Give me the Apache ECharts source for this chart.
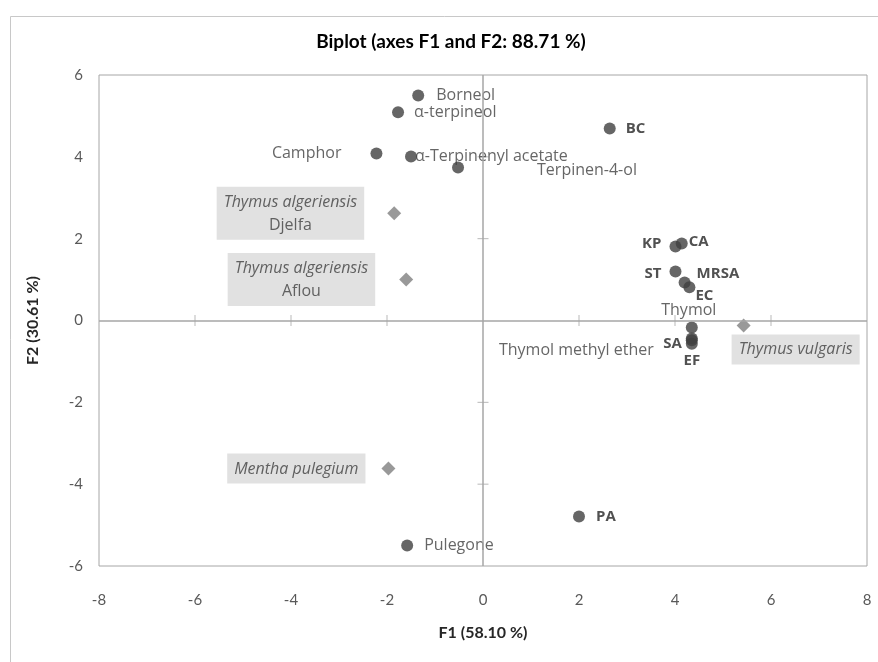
<!DOCTYPE html>
<html>
<head>
<meta charset="utf-8">
<script src="https://cdn.jsdelivr.net/npm/echarts@6/dist/echarts.min.js"></script>
<style>
  html, body { margin: 0; padding: 0; background: #fff; }
  #main { width: 878px; height: 662px; }
</style>
</head>
<body>
<div id="main"></div>
<script>
// variables (loadings)
const compoundNames = ['Borneol', 'α-terpineol', 'Camphor', 'α-Terpinenyl acetate', 'Terpinen-4-ol', 'Thymol', 'Thymol methyl ether', 'Pulegone'];
const compoundF1 = [-1.35, -1.77, -2.22, -1.50, -0.52, 4.35, 4.35, -1.58];
const compoundF2 = [5.50, 5.09, 4.08, 4.01, 3.74, -0.17, -0.44, -5.50];

// bacteria
const bacteriaNames = ['BC', 'KP', 'CA', 'ST', 'MRSA', 'EC', 'SA', 'EF', 'PA'];
const bacteriaF1 = [2.64, 4.01, 4.14, 4.01, 4.20, 4.30, 4.35, 4.35, 2.00];
const bacteriaF2 = [4.69, 1.81, 1.88, 1.20, 0.93, 0.81, -0.48, -0.57, -4.79];

// essential oils (observations)
const oilSpecies = ['Thymus algeriensis', 'Thymus algeriensis', 'Mentha pulegium', 'Thymus vulgaris'];
const oilOrigin = ['Djelfa', 'Aflou', '', ''];
const oilF1 = [-1.85, -1.60, -1.97, 5.43];
const oilF2 = [2.62, 1.00, -3.62, -0.12];

const xTicks = [-8, -6, -4, -2, 0, 2, 4, 6, 8];
const yTicks = [-6, -4, -2, 0, 2, 4, 6];

// label placement (style only)
const place = {
  'Borneol': { position: 'right', distance: 12 },
  'α-terpineol': { position: 'right', distance: 10 },
  'Camphor': { position: 'left', distance: 29 },
  'α-Terpinenyl acetate': { position: 'right', distance: -2 },
  'Terpinen-4-ol': { position: 'right', distance: 73, offset: [0, 3] },
  'Thymol': { position: 'top', distance: 3, offset: [-3, 0] },
  'Thymol methyl ether': { position: 'left', distance: 32, offset: [0, 12] },
  'Pulegone': { position: 'right', distance: 11 },
  'BC': { position: 'right', distance: 10 },
  'KP': { position: 'left', distance: 8, offset: [0, -3] },
  'CA': { position: 'right', distance: 1, offset: [0, -2] },
  'ST': { position: 'left', distance: 8, offset: [0, 2] },
  'MRSA': { position: 'right', distance: 6, offset: [0, -9] },
  'EC': { position: 'right', distance: 0, offset: [0, 8] },
  'SA': { position: 'left', distance: 4, offset: [0, 4] },
  'EF': { position: 'bottom', distance: 3 },
  'PA': { position: 'right', distance: 11 }
};
const oilPlace = [
  { position: 'left', distance: 23 },
  { position: 'left', distance: 24 },
  { position: 'left', distance: 16 },
  { position: 'bottom', distance: 2, offset: [52, 0] }
];

const tickColor = '#a6a6a6';
const axisFont = 'Lato';
const pointFont = 'Open Sans';

let tickData = [];
xTicks.forEach(t => {
  if (t !== 0 && Math.abs(t) !== 8) tickData.push({ value: [t, 0], symbolSize: [1, 11] });
});
yTicks.forEach(t => {
  if (t !== 0 && Math.abs(t) !== 6) tickData.push({ value: [0, t], symbolSize: [11, 1] });
});

const compoundData = compoundNames.map((n, i) => ({
  name: n,
  value: [compoundF1[i], compoundF2[i]],
  label: Object.assign({}, place[n])
}));
const bacteriaData = bacteriaNames.map((n, i) => ({
  name: n,
  value: [bacteriaF1[i], bacteriaF2[i]],
  label: Object.assign({}, place[n])
}));
const oilData = oilSpecies.map((n, i) => ({
  name: n,
  origin: oilOrigin[i],
  value: [oilF1[i], oilF2[i]],
  label: Object.assign({}, oilPlace[i])
}));

const myChart = echarts.init(document.getElementById('main'));
const option = {
  backgroundColor: '#fff',
  animation: false,
  graphic: [
    {
      type: 'rect',
      shape: { x: 10.5, y: 16.5, width: 900, height: 700 },
      style: { fill: 'none', stroke: '#c8c8c8', lineWidth: 1 },
      silent: true,
      z: -10
    },
    {
      type: 'text',
      x: 451,
      y: 42,
      style: {
        text: 'Biplot (axes F1 and F2: 88.71 %)',
        align: 'center',
        verticalAlign: 'middle',
        font: 'bold 19px Lato',
        fill: '#000'
      }
    }
  ],
  grid: {
    left: 99,
    right: 11,
    top: 75,
    bottom: 96,
    show: true,
    borderColor: tickColor,
    borderWidth: 1
  },
  xAxis: {
    type: 'value',
    min: -8,
    max: 8,
    interval: 2,
    axisLine: { show: false, onZero: false },
    axisTick: { show: false },
    splitLine: { show: false },
    axisLabel: { margin: 27, color: '#595959', fontFamily: axisFont, fontSize: 15 },
    name: 'F1 (58.10 %)',
    nameLocation: 'middle',
    nameGap: 59,
    nameTextStyle: { fontFamily: axisFont, fontWeight: 'bold', fontSize: 16, color: '#262626' }
  },
  yAxis: {
    type: 'value',
    min: -6,
    max: 6,
    interval: 2,
    axisLine: { show: false, onZero: false },
    axisTick: { show: false },
    splitLine: { show: false },
    axisLabel: { margin: 16, color: '#595959', fontFamily: axisFont, fontSize: 15 },
    name: 'F2 (30.61 %)',
    nameLocation: 'middle',
    nameRotate: 90,
    nameGap: 58,
    nameTextStyle: { fontFamily: axisFont, fontWeight: 'bold', fontSize: 16, color: '#262626' }
  },
  series: [
    {
      type: 'scatter',
      symbol: 'rect',
      silent: true,
      z: 1,
      itemStyle: { color: tickColor },
      data: tickData,
      markLine: {
        silent: true,
        symbol: 'none',
        label: { show: false },
        lineStyle: { color: tickColor, width: 1.5, type: 'solid' },
        data: [{ xAxis: 0 }, { yAxis: 0 }]
      }
    },
    {
      name: 'Variables',
      type: 'scatter',
      symbol: 'circle',
      symbolSize: 12,
      z: 3,
      itemStyle: { color: '#404040' },
      label: {
        show: true,
        formatter: '{b}',
        color: '#404040',
        fontFamily: pointFont,
        fontSize: 16
      },
      data: compoundData
    },
    {
      name: 'Bacteria',
      type: 'scatter',
      symbol: 'circle',
      symbolSize: 12,
      z: 3,
      itemStyle: { color: '#404040' },
      label: {
        show: true,
        formatter: '{b}',
        color: '#262626',
        fontFamily: pointFont,
        fontWeight: 'bold',
        fontSize: 15
      },
      data: bacteriaData
    },
    {
      name: 'Oils',
      type: 'scatter',
      symbol: 'diamond',
      symbolSize: 14,
      z: 3,
      itemStyle: { color: '#7f7f7f' },
      label: {
        show: true,
        formatter: p => p.data.origin ? '{i|' + p.name + '}\n{n|' + p.data.origin + '}' : '{i|' + p.name + '}',
        backgroundColor: '#d9d9d9',
        padding: [4, 7, 3, 7],
        color: '#404040',
        rich: {
          i: { fontFamily: pointFont, fontStyle: 'italic', fontSize: 16, color: '#404040', lineHeight: 23, align: 'center' },
          n: { fontFamily: pointFont, fontSize: 16, color: '#404040', lineHeight: 23, align: 'center' }
        }
      },
      data: oilData
    }
  ]
};
option && myChart.setOption(option);
</script>
</body>
</html>
